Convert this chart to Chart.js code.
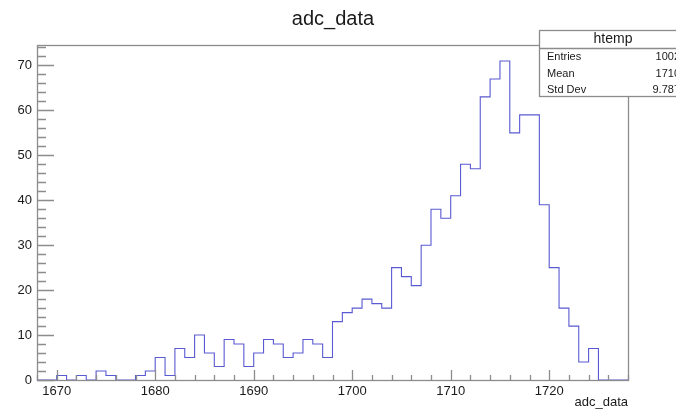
<!DOCTYPE html>
<html lang="en">
<head>
<meta charset="UTF-8">
<title>adc_data</title>
<script src="https://cdn.jsdelivr.net/npm/chart.js"></script>
<style>
  html, body { margin: 0; padding: 0; background: #fff; }
  #wrap { width: 676px; height: 411px; }
</style>
</head>
<body>
<div id="wrap"><canvas id="hist" width="676" height="411"></canvas></div>
<script>
// adc_data histogram: 60 bins of width 1 from 1668 to 1728
var xMin = 1668;
var xMax = 1728;
var binWidth = 1;
var counts = [
  0, 0, 0, 1, 0, 1, 0, 2, 1, 0,          // 1668-1677
  0, 1, 2, 5, 1, 7, 5, 10, 6, 3,         // 1678-1687
  9, 8, 3, 6, 9, 8, 5, 6, 9, 8,          // 1688-1697
  5, 13, 15, 16, 18, 17, 16, 25, 23, 21, // 1698-1707
  30, 38, 36, 41, 48, 47, 63, 67, 71, 55,// 1708-1717
  59, 59, 39, 25, 16, 12, 4, 7, 0, 0     // 1718-1727
];
var yMax = 74.55;

var xTicks = [1670, 1680, 1690, 1700, 1710, 1720];
var yTicks = [0, 10, 20, 30, 40, 50, 60, 70];
var minorStep = 2;

var histName = 'htemp';
var statLabels = ['Entries', 'Mean', 'Std Dev'];
var statValues = ['1002', '1710', '9.787'];

var FONT = '"Liberation Sans", Arial, Helvetica, sans-serif';
var TEXT = '#1a1a1a';
var AXIS = '#8c8c8c';

// step outline: one point per bin low edge, plus the last upper edge
var points = counts.map(function (c, i) {
  return { x: xMin + i * binWidth, y: c };
});
points.push({ x: xMax, y: counts[counts.length - 1] });

// frame, inward ticks, titles and the stats box (ROOT style)
var rootFrame = {
  id: 'rootFrame',
  afterDraw: function (chart) {
    var c = chart.ctx;
    var a = chart.chartArea;
    var sx = chart.scales.x, sy = chart.scales.y;
    c.save();

    c.strokeStyle = AXIS;
    c.lineWidth = 1.3;
    c.strokeRect(a.left + 0.5, a.top + 0.5, a.right - a.left, a.bottom - a.top);

    c.beginPath();
    for (var v = Math.ceil(xMin / minorStep) * minorStep; v <= xMax; v += minorStep) {
      var px = Math.round(sx.getPixelForValue(v)) + 0.5;
      var len = xTicks.indexOf(v) >= 0 ? 10 : 5;
      c.moveTo(px, a.bottom);
      c.lineTo(px, a.bottom - len);
    }
    for (var w = 0; w <= yMax; w += minorStep) {
      var py = Math.round(sy.getPixelForValue(w)) + 0.5;
      var ylen = yTicks.indexOf(w) >= 0 ? 17 : 9;
      c.moveTo(a.left, py);
      c.lineTo(a.left + ylen, py);
    }
    c.stroke();

    c.fillStyle = TEXT;
    c.font = '20px ' + FONT;
    c.textAlign = 'center';
    c.textBaseline = 'alphabetic';
    c.fillText('adc_data', 333, 25);

    c.font = '13px ' + FONT;
    c.textAlign = 'right';
    c.fillText('adc_data', a.right, 406);

    // stats box, running past the right edge of the canvas
    var bx = 539.5, by = 30.5, bw = 150, bh = 66;
    c.fillStyle = '#fff';
    c.fillRect(bx, by, bw, bh);
    c.strokeStyle = AXIS;
    c.lineWidth = 1.3;
    c.strokeRect(bx, by, bw, bh);
    c.beginPath();
    c.moveTo(bx, 48.5);
    c.lineTo(bx + bw, 48.5);
    c.stroke();

    c.fillStyle = TEXT;
    c.font = '14px ' + FONT;
    c.textAlign = 'center';
    c.fillText(histName, 613, 43);
    c.font = '11px ' + FONT;
    statLabels.forEach(function (lab, i) {
      var base = 60 + i * 16.5;
      c.textAlign = 'left';
      c.fillText(lab, 547, base);
      c.textAlign = 'right';
      c.fillText(statValues[i], 680, base);
    });

    c.restore();
  }
};

var ctx = document.getElementById('hist').getContext('2d');
var chart = new Chart(ctx, {
  type: 'line',
  data: {
    datasets: [{
      data: points,
      stepped: 'after',
      borderColor: '#5a5ad2',
      borderWidth: 1.1,
      pointRadius: 0,
      fill: false,
      tension: 0
    }]
  },
  options: {
    responsive: false,
    animation: false,
    layout: { padding: { top: 45, right: 48, left: 0, bottom: 0 } },
    plugins: {
      legend: { display: false },
      tooltip: { enabled: false },
      title: { display: false }
    },
    scales: {
      x: {
        type: 'linear',
        min: xMin,
        max: xMax,
        grid: { display: false, drawTicks: false },
        border: { display: false },
        ticks: {
          color: TEXT, font: { family: FONT, size: 13 }, padding: 4, maxRotation: 0,
          callback: function (v) { return String(v); }
        },
        afterBuildTicks: function (s) { s.ticks = xTicks.map(function (v) { return { value: v }; }); },
        afterFit: function (s) { s.height = 31; }
      },
      y: {
        type: 'linear',
        min: 0,
        max: yMax,
        grid: { display: false, drawTicks: false },
        border: { display: false },
        ticks: {
          color: TEXT, font: { family: FONT, size: 13 }, padding: 5,
          callback: function (v) { return String(v); }
        },
        afterBuildTicks: function (s) { s.ticks = yTicks.map(function (v) { return { value: v }; }); },
        afterFit: function (s) { s.width = 37; }
      }
    }
  },
  plugins: [rootFrame]
});
</script>
</body>
</html>
